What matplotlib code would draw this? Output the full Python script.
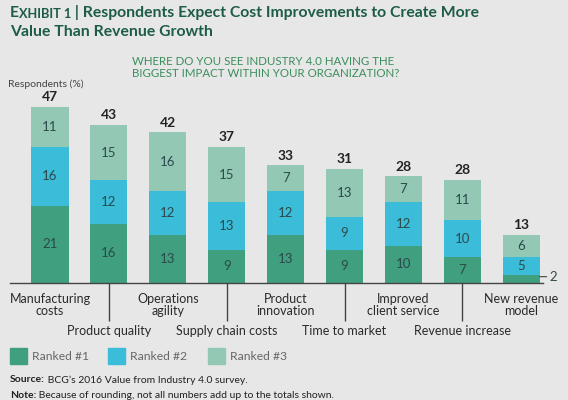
import numpy as np
import matplotlib.pyplot as plt

# data
categories = ["Manufacturing\ncosts", "Product quality", "Operations\nagility",
              "Supply chain costs", "Product\ninnovation", "Time to market",
              "Improved\nclient service", "Revenue increase", "New revenue\nmodel"]
rank1 = [21, 16, 13, 9, 13, 9, 10, 7, 2]
rank2 = [16, 12, 12, 13, 12, 9, 12, 10, 5]
rank3 = [11, 15, 16, 15, 7, 13, 7, 11, 6]
totals = [47, 43, 42, 37, 33, 31, 28, 28, 13]
series_names = ["Ranked #1", "Ranked #2", "Ranked #3"]

BG = "#e7e7e7"
C1, C2, C3 = "#3f9f7f", "#3bbcd8", "#93c8b5"
TITLE_C = "#1d5c45"
SUB_C = "#3a8e5c"
VAL_C = "#2c4a4a"
FONT = "Lato"

plt.rcParams['font.family'] = [FONT, 'DejaVu Sans']

W, H = 568, 400
fig = plt.figure(figsize=(W / 100, H / 100), dpi=100, facecolor=BG)


def px(x, y):
    return x / W, 1 - y / H


# axes: baseline at y=282 px, x from 10 to 543 px, bar pitch 58.9 px
base_y, top_y = 282.5, 99.5
ax_l, ax_r = 10, 543
pitch, c0 = 58.9, 50
ax = fig.add_axes([ax_l / W, 1 - base_y / H, (ax_r - ax_l) / W, (base_y - top_y) / H])
ax.set_facecolor(BG)
ax.set_xlim((ax_l - c0) / pitch, (ax_r - c0) / pitch)
ax.set_ylim(0, 50)

x = np.arange(len(categories))
bw = 37 / pitch
r1 = np.array(rank1)
r2 = np.array(rank2)
r3 = np.array(rank3)
ax.bar(x, r1, bw, color=C1, label=series_names[0])
ax.bar(x, r2, bw, bottom=r1, color=C2, label=series_names[1])
ax.bar(x, r3, bw, bottom=r1 + r2, color=C3, label=series_names[2])

for i in range(len(x)):
    if rank1[i] >= 4:
        ax.text(x[i], r1[i] / 2, str(rank1[i]), ha='center', va='center',
                fontsize=9.5, color=VAL_C)
    else:
        ax.annotate(str(rank1[i]), xy=(x[i] + bw / 2, r1[i] / 2 + 0.6),
                    xytext=(7, 0), textcoords='offset points', ha='left', va='center',
                    fontsize=9.5, color=VAL_C,
                    arrowprops=dict(arrowstyle='-', color='#555555', lw=0.9,
                                    shrinkA=0, shrinkB=0))
    ax.text(x[i], r1[i] + r2[i] / 2, str(rank2[i]), ha='center', va='center',
            fontsize=9.5, color=VAL_C)
    ax.text(x[i], r1[i] + r2[i] + r3[i] / 2, str(rank3[i]), ha='center', va='center',
            fontsize=9.5, color=VAL_C)
    ax.annotate(str(totals[i]), xy=(x[i], r1[i] + r2[i] + r3[i]), xytext=(0, 7),
                textcoords='offset points', ha='center', va='center',
                fontsize=10, fontweight='bold', color='#222222')

for s in ['top', 'right', 'left']:
    ax.spines[s].set_visible(False)
ax.spines['bottom'].set_color('#444444')
ax.spines['bottom'].set_linewidth(1.0)
ax.set_yticks([])
ax.set_xticks(x[1::2])
ax.set_xticklabels([])
ax.tick_params(axis='x', direction='out', length=38 * 0.72, width=1.0, color='#444444')

# category labels, alternating rows
for i, lab in enumerate(categories):
    xp = c0 + pitch * i
    if i % 2 == 0:
        fig.text(*px(xp, 305), lab, ha='center', va='center', fontsize=9,
                 color='#2a2a2a', linespacing=1.05)
    else:
        fig.text(*px(xp, 331), lab, ha='center', va='center', fontsize=9,
                 color='#2a2a2a')

# titles
r = fig.canvas.get_renderer()
t = fig.text(*px(10, 13), "E", ha='left', va='center', fontsize=11.3,
             fontweight='bold', color=TITLE_C)
bb = t.get_window_extent(r)
t2 = fig.text(bb.x1 / W, 1 - 14 / H, "XHIBIT 1", ha='left', va='center',
              fontsize=9.2, fontweight='bold', color=TITLE_C)
bb = t2.get_window_extent(r)
fig.text(bb.x1 / W, 1 - 13 / H, " | Respondents Expect Cost Improvements to Create More",
         ha='left', va='center', fontsize=11.3, fontweight='bold', color=TITLE_C)
fig.text(*px(10, 32), "Value Than Revenue Growth", ha='left', va='center',
         fontsize=11.3, fontweight='bold', color=TITLE_C)

fig.text(*px(132, 67.5), "WHERE DO YOU SEE INDUSTRY 4.0 HAVING THE\nBIGGEST IMPACT WITHIN YOUR ORGANIZATION?",
         ha='left', va='center', fontsize=8.3, color=SUB_C, linespacing=1.1)
fig.text(*px(8, 84), "Respondents (%)", ha='left', va='center', fontsize=7.5, color='#444444')

# legend
for j, (name, c) in enumerate(zip(series_names, [C1, C2, C3])):
    lx = [10, 108, 208][j]
    fig.patches.append(plt.Rectangle(px(lx, 364), 17 / W, 16 / H, color=c,
                                     transform=fig.transFigure, figure=fig))
    fig.text(*px(lx + 22, 356), name, ha='left', va='center', fontsize=8.7, color='#666666')

# source and note
s = fig.text(*px(10, 380), "Source:", ha='left', va='center', fontsize=7.5,
             fontweight='bold', color='#222222')
bb = s.get_window_extent(r)
fig.text(bb.x1 / W, 1 - 380 / H, " BCG\u2019s 2016 Value from Industry 4.0 survey.",
         ha='left', va='center', fontsize=7.5, color='#222222')
n = fig.text(*px(10, 395), "Note:", ha='left', va='center', fontsize=7.5,
             fontweight='bold', color='#222222')
bb = n.get_window_extent(r)
fig.text(bb.x1 / W, 1 - 395 / H, " Because of rounding, not all numbers add up to the totals shown.",
         ha='left', va='center', fontsize=7.5, color='#222222')

fig.savefig("out.png", dpi=100, facecolor=BG)
